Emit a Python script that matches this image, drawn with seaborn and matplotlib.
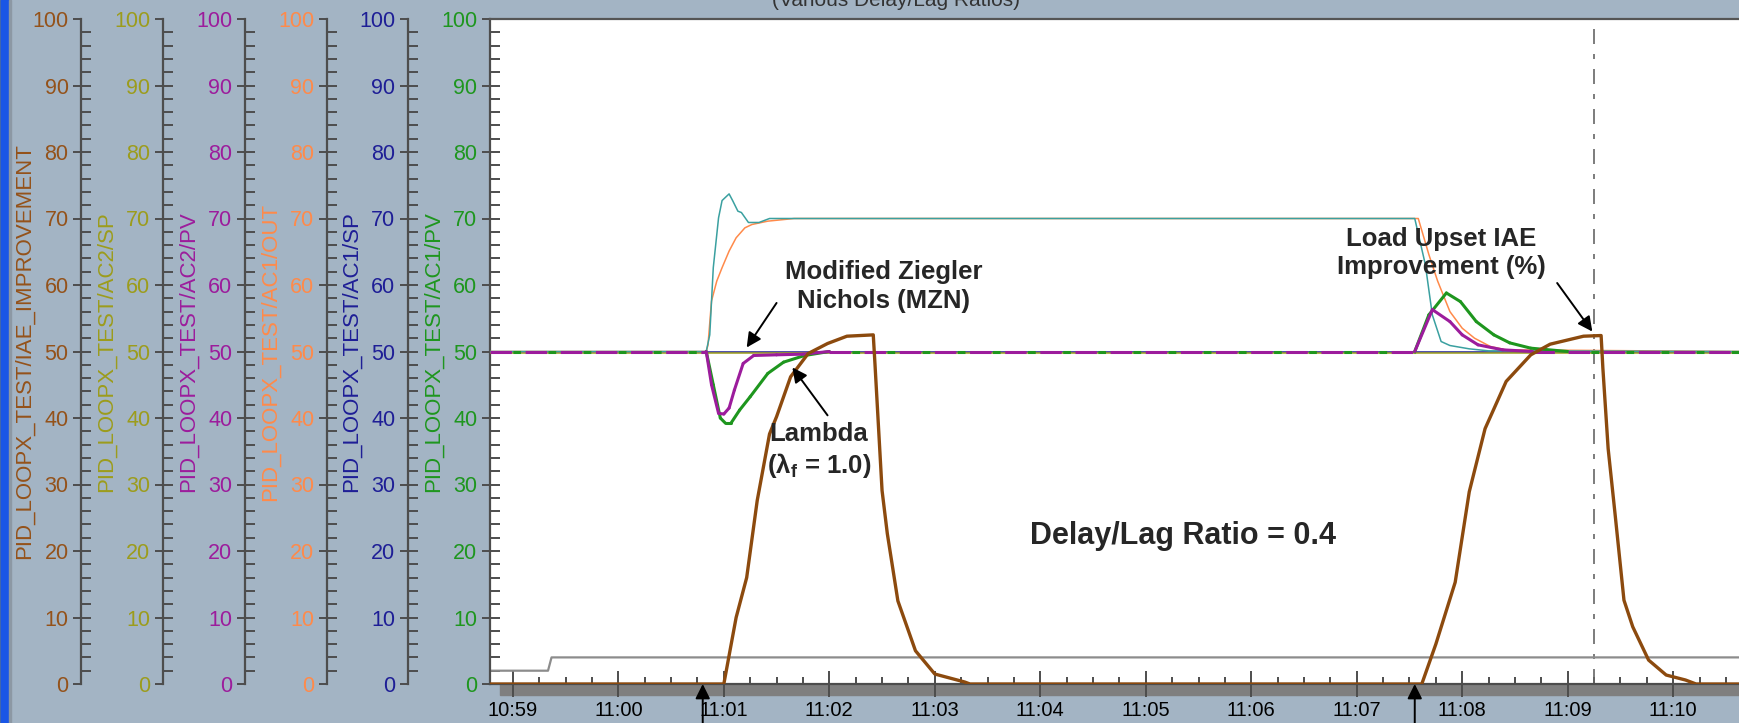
import pandas as pd
import seaborn as sns
import matplotlib.pyplot as plt
import matplotlib.dates as mdates
from matplotlib import font_manager
from matplotlib.patches import Rectangle
from matplotlib.ticker import MultipleLocator, FixedLocator

# ---- trend data ----
DAY = "2009-06-01 "
t_start, t_end = "10:58:47", "11:10:38"

scale_labels = ["PID_LOOPX_TEST/IAE_IMPROVEMENT", "PID_LOOPX_TEST/AC2/SP",
                "PID_LOOPX_TEST/AC2/PV", "PID_LOOPX_TEST/AC1/OUT",
                "PID_LOOPX_TEST/AC1/SP", "PID_LOOPX_TEST/AC1/PV"]
scale_colors = ["#94521a", "#9c9c1c", "#9c1c9c", "#ff8a4a", "#1e1e96", "#1e961e"]

gray_t = ["10:58:47", "10:59:20", "10:59:22", "11:10:38"]
gray_v = [2.0, 2.0, 4.0, 4.0]

sp1_t = ["10:58:47", "11:10:38"]
sp1_v = [50.0, 50.0]
sp2_t = ["10:58:47", "11:10:38"]
sp2_v = [49.8, 49.8]

out2_t = ["10:58:47", "11:00:50", "11:00:52", "11:00:54", "11:00:57", "11:00:59", "11:01:03",
          "11:01:05", "11:01:08", "11:01:10", "11:01:14", "11:01:20", "11:01:26", "11:07:33",
          "11:07:39", "11:07:43", "11:07:48", "11:07:53", "11:08:04", "11:08:15", "11:10:38"]
out2_v = [50, 50, 52.5, 62.6, 70.1, 72.7, 73.7, 72.7, 71.1, 70.9, 69.4, 69.4, 70.0, 70,
          63.1, 55.5, 51.5, 50.9, 50.4, 50.1, 50]

out1_t = ["10:58:47", "11:00:50", "11:00:51", "11:00:53", "11:00:56", "11:00:59", "11:01:03",
          "11:01:07", "11:01:12", "11:01:16", "11:01:25", "11:01:40", "11:07:33", "11:07:35",
          "11:07:41", "11:07:46", "11:07:53", "11:08:00", "11:08:07", "11:08:16", "11:08:25",
          "11:10:38"]
out1_v = [50, 50, 51, 57.6, 60.6, 62.6, 65.1, 67.1, 68.6, 69.1, 69.6, 70, 70, 70,
          64.6, 60.6, 56, 53.5, 52, 50.75, 50.25, 50]

pv2_t = ["10:58:47", "11:00:50", "11:00:53", "11:00:57", "11:01:00", "11:01:03", "11:01:06",
         "11:01:11", "11:01:17", "11:01:30", "11:01:45", "11:02:00", "11:07:33", "11:07:43",
         "11:07:53", "11:08:00", "11:08:09", "11:08:23", "11:08:40", "11:10:38"]
pv2_v = [50, 50, 45, 40.7, 40.6, 41.5, 44.2, 48.2, 49.4, 49.5, 49.6, 50, 50, 56.3,
         54.5, 52.5, 51.0, 50.25, 50, 50]

pv1_t = ["10:58:47", "11:00:50", "11:00:54", "11:00:58", "11:01:01", "11:01:04", "11:01:09",
         "11:01:15", "11:01:25", "11:01:34", "11:01:46", "11:02:00", "11:07:33", "11:07:41",
         "11:07:51", "11:07:59", "11:08:08", "11:08:18", "11:08:27", "11:08:39", "11:09:00",
         "11:10:38"]
pv1_v = [50, 50, 45, 40, 39.2, 39.2, 41.2, 43.2, 46.7, 48.4, 49.4, 50, 50, 55.5,
         58.8, 57.5, 54.5, 52.5, 51.3, 50.5, 50, 50]

iae_t = ["10:58:47", "11:01:00", "11:01:07", "11:01:13", "11:01:19", "11:01:26", "11:01:30",
         "11:01:38", "11:01:48", "11:01:59", "11:02:10", "11:02:25", "11:02:26", "11:02:30",
         "11:02:33", "11:02:39", "11:02:49", "11:03:00", "11:03:17", "11:03:20",
         "11:07:37", "11:07:45", "11:07:56", "11:08:04", "11:08:13", "11:08:25", "11:08:39",
         "11:08:50", "11:09:09", "11:09:19", "11:09:20", "11:09:23", "11:09:27", "11:09:32",
         "11:09:37", "11:09:46", "11:09:56", "11:10:07", "11:10:13", "11:10:38"]
iae_v = [0, 0, 10, 16, 27.6, 37.6, 40.2, 46.2, 49.7, 51.2, 52.3, 52.5, 48, 29.1,
         22.6, 12.5, 5, 1.5, 0.3, 0,
         0, 6, 15.3, 28.9, 38.4, 45.5, 49.5, 51.1, 52.3, 52.4, 47.5, 35.4, 25.4, 12.6,
         8.6, 3.6, 1.35, 0.6, 0, 0]

upset_times = ["11:00:48", "11:07:33"]
cursor_time = "11:09:15"


def tnum(times):
    return mdates.date2num(pd.to_datetime([DAY + t for t in times]))


def split_runs(times, values, base=50.0):
    # break a trace into flat baseline pieces and response pieces
    rows = []
    for i in range(len(values) - 1):
        flat = values[i] == base and values[i + 1] == base
        for j in (i, i + 1):
            rows.append({"time": times[j], "value": values[j], "seg": i, "flat": flat})
    return pd.DataFrame(rows)


W, H = 1740, 723
BG = "#a3b4c4"
AXC = "#4d4d4d"


def fx(px):
    return px / W


def fy(py):
    return 1 - py / H


sns.set_style("white")
plt.rcParams["font.family"] = ["Liberation Sans", "DejaVu Sans"]
plt.rcParams["mathtext.fontset"] = "custom"
plt.rcParams["mathtext.rm"] = "Liberation Sans:bold"

# narrow face for the scale numbers if it is there
try:
    font_manager.findfont("Liberation Sans Narrow", fallback_to_default=False)
    num_font, num_size = "Liberation Sans Narrow", 17
except ValueError:
    num_font, num_size = "Liberation Sans", 15.5

fig = plt.figure(figsize=(W / 100, H / 100), dpi=100, facecolor=BG)

# window border strip and shadow under the time axis
fig.patches.append(Rectangle((0, 0), fx(1), 1, transform=fig.transFigure, color="#4a6aa0", zorder=-2))
fig.patches.append(Rectangle((fx(1), 0), fx(8), 1, transform=fig.transFigure, color="#1a56e6", zorder=-2))
fig.patches.append(Rectangle((fx(9), 0), fx(2), 1, transform=fig.transFigure, color="#8c98a4", zorder=-2))
fig.patches.append(Rectangle((fx(500), fy(695)), fx(1240), 11 / H, transform=fig.transFigure,
                             color="#7f7f7f", zorder=-1))

bottom, top = fy(684), fy(19)
axis_x = [81, 163, 245, 327, 408, 490]


def style_scale(a, color):
    a.set_ylim(0, 100)
    a.yaxis.set_major_locator(MultipleLocator(10))
    a.yaxis.set_minor_locator(FixedLocator(list(range(2, 100, 2))))
    a.yaxis.remove_overlapping_locs = False
    a.tick_params(axis="y", which="major", left=True, direction="out", length=6, width=1.4,
                  color=AXC, labelcolor=color, labelsize=num_size, pad=3)
    a.tick_params(axis="y", which="minor", left=True, direction="in", length=7, width=1.4, color=AXC)
    for lbl in a.get_yticklabels():
        lbl.set_fontfamily(num_font)
    a.spines["left"].set_color(AXC)
    a.spines["left"].set_linewidth(1.6)


for xp, lab, col in zip(axis_x[:-1], scale_labels[:-1], scale_colors[:-1]):
    sa = fig.add_axes([fx(xp), bottom, 1e-4, top - bottom])
    sa.set_facecolor("none")
    for s in ["top", "right", "bottom"]:
        sa.spines[s].set_visible(False)
    sa.set_xticks([])
    style_scale(sa, col)

for xp, lab, col in zip(axis_x, scale_labels, scale_colors):
    fig.text(fx(xp - 57), (bottom + top) / 2, lab, rotation=90, ha="center", va="center",
             color=col, fontsize=16)

ax = fig.add_axes([fx(490), bottom, 1 - fx(490), top - bottom])
ax.set_facecolor("white")
ax.set_xlim(tnum([t_start])[0], tnum([t_end])[0])

brown, olive, purple, orange, navy, green = scale_colors
teal = "#3aa0a0"

sns.lineplot(x=tnum(gray_t), y=gray_v, color="#8c8c8c", lw=1.6, estimator=None, sort=False, ax=ax, zorder=2)
sns.lineplot(x=tnum(sp1_t), y=sp1_v, color=navy, lw=1.1, estimator=None, sort=False, ax=ax, zorder=2)
sns.lineplot(x=tnum(sp2_t), y=sp2_v, color=olive, lw=1.1, estimator=None, sort=False, ax=ax, zorder=3)
sns.lineplot(x=tnum(out1_t), y=out1_v, color=orange, lw=1.1, estimator=None, sort=False, ax=ax, zorder=4)
sns.lineplot(x=tnum(out2_t), y=out2_v, color=teal, lw=1.1, estimator=None, sort=False, ax=ax, zorder=5)

for tt, vv, col, dash, z in [(pv1_t, pv1_v, green, (4, (2.5, 9)), 6),
                             (pv2_t, pv2_v, purple, (0, (7, 4.5)), 7)]:
    runs = split_runs(tnum(tt), vv)
    sns.lineplot(data=runs[~runs["flat"]], x="time", y="value", units="seg", estimator=None,
                 color=col, lw=2.2, ax=ax, zorder=z, solid_capstyle="round")
    sns.lineplot(data=runs[runs["flat"]], x="time", y="value", units="seg", estimator=None,
                 color=col, lw=2.2, ax=ax, zorder=z, linestyle=dash)

sns.lineplot(x=tnum(iae_t), y=iae_v, color="#8c4a0e", lw=2.4, estimator=None, sort=False, ax=ax, zorder=8)

ax.axvline(tnum([cursor_time])[0], color="#666666", lw=1.2, linestyle=(0, (9, 6, 3, 6)), zorder=1)

ax.set_xlabel("")
ax.set_ylabel("")
style_scale(ax, scale_colors[5])
ax.xaxis.set_major_locator(mdates.MinuteLocator())
ax.xaxis.set_minor_locator(mdates.SecondLocator(bysecond=[15, 30, 45]))
ax.xaxis.set_major_formatter(mdates.DateFormatter("%H:%M"))
ax.tick_params(axis="x", which="major", bottom=True, direction="inout", length=19, width=1.4,
               color=AXC, labelsize=num_size - 1, labelcolor="black", pad=3)
ax.tick_params(axis="x", which="minor", bottom=True, direction="in", length=5, width=1.4, color=AXC)
for lbl in ax.get_xticklabels():
    lbl.set_fontfamily(num_font)
ax.spines["bottom"].set_color(AXC)
ax.spines["bottom"].set_linewidth(1.6)
ax.spines["top"].set_color("#555555")
ax.spines["top"].set_linewidth(1.6)
ax.spines["right"].set_visible(False)

# annotations
arrow = dict(arrowstyle="-|>", color="black", lw=1.4, mutation_scale=22, shrinkA=0, shrinkB=0)
bold = dict(fontsize=18.5, fontweight="bold", ha="center", va="center", linespacing=1.25, zorder=10)


def tx(t):
    return tnum([t])[0]


ax.text(tx("11:02:31"), 59.8, "Modified Ziegler\nNichols (MZN)", **bold)
ax.annotate("", xy=(tx("11:01:13"), 50.6), xytext=(tx("11:01:30"), 57.3), arrowprops=arrow, zorder=10)
ax.text(tx("11:01:54"), 35.0, "Lambda\n(λ$_{\\mathregular{f}}$ = 1.0)", **bold)
ax.annotate("", xy=(tx("11:01:39"), 47.6), xytext=(tx("11:01:59"), 40.4), arrowprops=arrow, zorder=10)
ax.text(tx("11:07:48"), 64.8, "Load Upset IAE\nImprovement (%)", **bold)
ax.annotate("", xy=(tx("11:09:14"), 53.0), xytext=(tx("11:08:54"), 60.3), arrowprops=arrow, zorder=10)
ax.text(tx("11:05:21"), 22.3, "Delay/Lag Ratio = 0.4", fontsize=22, fontweight="bold",
        ha="center", va="center", zorder=10)

for t in upset_times:
    ax.annotate("", xy=(tx(t), 0), xytext=(0, -42), textcoords="offset pixels",
                arrowprops=arrow, annotation_clip=False)

# chart title sits mostly above the captured frame, as on the screen grab
fig.text(fx(896), fy(6), "(Various Delay/Lag Ratios)", ha="center", va="baseline",
         fontsize=15, color="#333333")

fig.savefig("out.png", dpi=100, facecolor=BG)
